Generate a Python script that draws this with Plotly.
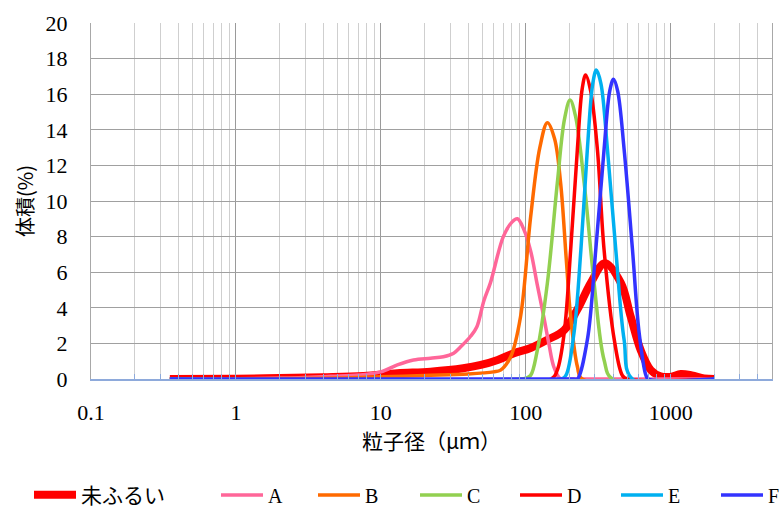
import math
import plotly.graph_objects as go

# ---- data ----
x_raw = [0.35, 1, 2, 4, 7.6, 13, 22, 37, 49, 64, 83, 108, 141, 184, 227, 281, 351,
         453, 530, 622, 729, 850, 1000, 1175, 1400, 1700, 2000]
y_raw = [0, 0.02, 0.05, 0.1, 0.17, 0.32, 0.41, 0.6, 0.79, 1.07, 1.45, 1.74, 2.2, 2.75,
         3.9, 5.4, 6.5, 5.4, 3.5, 1.6, 0.5, 0.15, 0.12, 0.28, 0.2, 0.03, 0]

x_A = [0.35, 2, 4.5, 7, 10, 13, 16.8, 22, 27, 31.8, 36, 41.6, 46, 51.4, 57, 70, 80,
       87.5, 97, 108, 120, 133, 145, 156, 174, 200, 2000]
y_A = [0, 0.05, 0.15, 0.22, 0.4, 0.79, 1.07, 1.17, 1.25, 1.45, 1.85, 2.4, 2.94, 4.4,
       5.4, 8.0, 8.8, 9.0, 8.4, 7.2, 5.3, 3.5, 1.9, 0.7, 0, 0, 0]

x_B = [0.35, 5, 10, 20, 40, 60, 67, 78.7, 92, 108, 125, 141, 158, 174, 190, 204, 227,
       245, 2000]
y_B = [0, 0.05, 0.12, 0.2, 0.28, 0.4, 0.5, 1.25, 3.5, 9.1, 13.0, 14.4, 13.5, 11.0, 6.8,
       3.5, 0.7, 0, 0]

x_C = [0.35, 90, 100, 108, 120, 141, 165, 185, 202, 220, 253, 296, 347, 396, 2000]
y_C = [0, 0, 0.05, 0.2, 1.6, 5.4, 11.0, 14.6, 15.67, 14.8, 11.0, 5.4, 1.07, 0, 0]

x_D = [0.35, 150, 165, 184, 204, 227, 245, 259, 280, 312, 347, 408, 464, 500, 2000]
y_D = [0, 0, 0.5, 2.57, 7.25, 12.9, 16.3, 17.08, 16.2, 12.9, 7.25, 2.2, 0.2, 0, 0]

x_E = [0.35, 175, 189, 215, 240, 266, 290, 307, 330, 366, 418, 477, 545, 2000]
y_E = [0, 0, 0.2, 2.57, 7.25, 12.9, 16.6, 17.36, 16.6, 12.9, 7.25, 2.2, 0, 0]

x_F = [0.35, 215, 227, 266, 304, 347, 380, 403, 430, 477, 545, 606, 675, 700, 2000]
y_F = [0, 0, 0, 2.2, 7.25, 12.9, 16.2, 16.84, 16.2, 12.9, 7.25, 2.57, 0.2, 0, 0]

series_names = ["未ふるい", "A", "B", "C", "D", "E", "F"]
series_colors = ["#FF0000", "#FF6699", "#FF6A00", "#92D050", "#FF0000", "#00B0F0", "#3333FF"]
series_widths = [8, 3.5, 3.5, 3.5, 3.5, 3.5, 3.5]
series_x = [x_raw, x_A, x_B, x_C, x_D, x_E, x_F]
series_y = [y_raw, y_A, y_B, y_C, y_D, y_E, y_F]

x_tickvals = [0.1, 1, 10, 100, 1000]
x_ticktext = ["0.1", "1", "10", "100", "1000"]
x_minor = [m * 10 ** e for e in range(-1, 3) for m in range(2, 10)] + [2000, 3000, 4000]
y_tickvals = list(range(0, 21, 2))

FONT = "Liberation Serif, Noto Sans CJK JP, serif"
CJK = "Noto Sans CJK JP"

W, H = 779, 508
# legend box left edges in pixels (container coordinates)
legend_px = [29, 216, 313, 415, 515, 616, 716]
legend_ids = ["legend", "legend2", "legend3", "legend4", "legend5", "legend6", "legend7"]

fig = go.Figure()
for i, (nm, c, w, xs, ys) in enumerate(zip(series_names, series_colors, series_widths,
                                            series_x, series_y)):
    fig.add_trace(go.Scatter(
        x=xs, y=ys, mode="lines", name=nm,
        line=dict(color=c, width=w, shape="spline", smoothing=1.0),
        legend=legend_ids[i],
        hoverinfo="skip",
    ))

legends = {}
for i, lid in enumerate(legend_ids):
    legends[lid] = dict(
        orientation="h", xref="container", yref="container",
        x=legend_px[i] / W, xanchor="left",
        y=(H - 495) / H, yanchor="middle", itemwidth=42, bgcolor="rgba(0,0,0,0)",
        font=dict(family=FONT, size=21 if i == 0 else 20),
    )

fig.update_layout(
    width=W, height=H,
    margin=dict(l=91, r=7, t=23, b=129),
    paper_bgcolor="white", plot_bgcolor="white",
    font=dict(family=FONT, size=20, color="#000000"),
    showlegend=True,
    **legends,
    xaxis=dict(
        type="log", range=[-1, math.log10(5000)], automargin=False,
        tickmode="array", tickvals=x_tickvals, ticktext=x_ticktext,
        tickfont=dict(family=FONT, size=22),
        showgrid=True, gridcolor="#9a9a9a", gridwidth=1,
        showline=True, linecolor="#8eaadb", linewidth=1.5,
        ticks="inside", ticklen=5, tickcolor="#8eaadb",
        ticklabelstandoff=13,
        minor=dict(tickvals=x_minor, showgrid=True, gridcolor="#cfcfcf", gridwidth=1,
                   ticks="inside", ticklen=5, tickcolor="#8eaadb"),
        title=dict(text="粒子径（μｍ）", font=dict(family=CJK, size=21), standoff=9),
        zeroline=False,
    ),
    yaxis=dict(
        range=[0, 20], tickmode="array", tickvals=y_tickvals, automargin=False,
        tickfont=dict(family=FONT, size=22),
        showgrid=True, gridcolor="#a0a0a0", gridwidth=1,
        showline=True, mirror=True, linecolor="#a8a8a8", linewidth=1,
        ticks="", ticklabelstandoff=18,
        title=dict(text="体積(%)", font=dict(family=CJK, size=20), standoff=6),
        zeroline=False,
    ),
)

fig.write_html("out.html", config={"displayModeBar": False},
               post_script="document.body.style.margin='0';")
